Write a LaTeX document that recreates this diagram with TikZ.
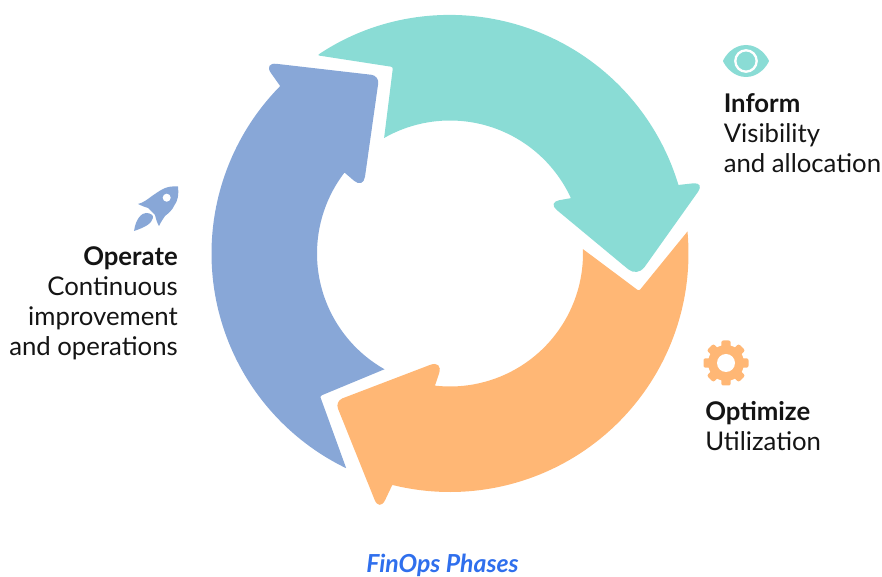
\documentclass[tikz,border=0pt]{standalone}
\usepackage{fontspec}
\usepackage{xcolor}
\setmainfont{Lato}
\usetikzlibrary{positioning}
\definecolor{informcol}{HTML}{8ADCD5}
\definecolor{optimizecol}{HTML}{FFB775}
\definecolor{operatecol}{HTML}{88A7D7}
\definecolor{titlecol}{HTML}{2F6FED}
\definecolor{textcol}{HTML}{141414}

\begin{document}
\begin{tikzpicture}[x=0.75pt, y=0.75pt,
    phasetext/.style={inner sep=0pt, text=textcol, font=\fontsize{19.3}{22.5}\selectfont}]
    \useasboundingbox (-450,-323.5) rectangle (432,253.5);

    % Inform arrow (top right)
    \fill[informcol] (123.8:238.5) arc (123.8:16.7:238.5)
        [rounded corners=9pt] -- (255,71.5) -- (187.5,-23.5)
        [rounded corners=9pt] -- (97.5,51.2) [sharp corners] -- (24.6:133) arc (24.6:119.7:133)
        [rounded corners=1.5pt] -- (-57,186.5) -- cycle;

    % Operate arrow (left)
    \fill[operatecol] (135.4:238.5) arc (135.4:244.2:238.5)
        [rounded corners=1.5pt] -- (-130,-142.5) [sharp corners] -- (240.5:133) arc (240.5:142.5:133)
        [rounded corners=9pt] -- (-86.7,64.8)
        [rounded corners=6pt] -- (-70.7,177.8)
        [rounded corners=10pt] -- (-186.7,191.2) [sharp corners] -- cycle;

    % Optimize arrow (bottom right)
    \fill[optimizecol] (256:238.5) arc (256:365.3:238.5)
        [rounded corners=1.5pt] -- (189,-37.5) [sharp corners] -- (361.9:133) arc (361.9:263.5:133)
        [rounded corners=11pt] -- (-6.3,-106.2)
        [rounded corners=6pt] -- (-115,-147.7)
        [rounded corners=10pt] -- (-70.5,-258.5) [sharp corners] -- cycle;

    % eye icon
    \begin{scope}[shift={(296,192.5)}]
        \fill[informcol] (-23,0) .. controls (-21,5) and (-13,16) .. (0,16) .. controls (13,16) and (21,5) .. (23,0)
            .. controls (21,-5) and (13,-16) .. (0,-16) .. controls (-13,-16) and (-21,-5) .. (-23,0) -- cycle;
        \draw[white, line width=1.75pt] (0,0) circle (10.7);
    \end{scope}

    % gear icon
    \begin{scope}[shift={(276,-109.5)}]
        \fill[optimizecol] (0,0) circle (18);
        \fill[optimizecol, rounded corners=1.5pt] (-22.5,-4.7) rectangle (22.5,4.7);
        \fill[optimizecol, rounded corners=1.5pt, rotate=45] (-22.5,-4.7) rectangle (22.5,4.7);
        \fill[optimizecol, rounded corners=1.5pt, rotate=90] (-22.5,-4.7) rectangle (22.5,4.7);
        \fill[optimizecol, rounded corners=1.5pt, rotate=135] (-22.5,-4.7) rectangle (22.5,4.7);
        \fill[white] (0,0) circle (9);
    \end{scope}

    % rocket icon
    \begin{scope}[shift={(-287,53.5)}]
        \fill[operatecol] (15,13.5) .. controls (8,14) and (4,13) .. (0,11) .. controls (-4,9) and (-8,6) .. (-11,4)
            .. controls (-15,1) and (-20,-3) .. (-25,-4) .. controls (-21,-6) and (-18,-7) .. (-15,-8)
            -- (-8,-15) .. controls (-7,-19) and (-6,-23) .. (-4,-26) .. controls (-2,-22) and (0,-19) .. (2,-16)
            .. controls (6,-13) and (10,-9) .. (11,-6) .. controls (15,-1) and (16,6) .. (15,13.5) -- cycle;
        \fill[white] (3.7,2.3) circle (4);
        \fill[operatecol] (-29,-31) .. controls (-27,-18) and (-21,-13) .. (-17,-13)
            .. controls (-13,-13) and (-9,-15) .. (-10,-18) .. controls (-11,-24) and (-20,-28) .. (-29,-31) -- cycle;
    \end{scope}

    % labels
    \node[phasetext, align=left, anchor=north west] (inform) at (273.5,160)
        {{\bfseries Inform}\\Visibility\\and allocation};
    \node[phasetext, align=left, anchor=north west] (optimize) at (255,-148)
        {{\bfseries Optimize}\\Utilization};
    \node[phasetext, align=right, anchor=north east] (operate) at (-272,7)
        {{\bfseries Operate}\\Continuous\\improvement\\and operations};
    \node[inner sep=0pt, text=titlecol, font=\fontsize{18.6}{22}\selectfont\bfseries\itshape] (phases) at (-7.5,-312) {FinOps Phases};
\end{tikzpicture}
\end{document}
